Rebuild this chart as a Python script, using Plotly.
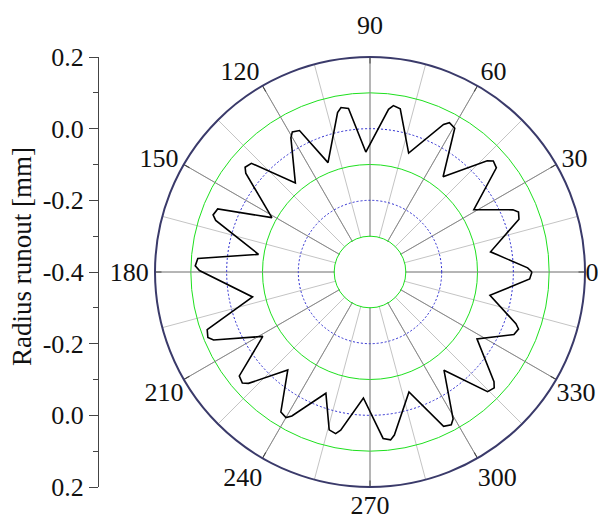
import plotly.graph_objects as go

# ---- data (angle in degrees, radius runout in mm) ----
theta_deg = [0, 1.5, 9.5, 19.5, 22, 23.5, 31, 39.5, 42, 43.5, 52.5, 59.5, 62, 63.5,
             72, 79.5, 82, 83.5, 92, 97.5, 100, 101.5, 111, 116.5, 119, 120.5,
             130, 137.5, 140, 141.5, 151, 157.5, 160, 161.5, 171, 175.5, 178, 179.5,
             192, 199.5, 202, 203.5, 211, 218.5, 221, 222.5, 230, 237.5, 240, 241.5,
             250, 255.5, 258, 259.5, 267, 274.5, 277, 278.5, 288, 295.5, 298, 299.5,
             307, 314.5, 317, 318.5, 328, 336.5, 339, 340.5, 349, 357.5, 360]
runout_mm = [0.052, 0.040, -0.059, 0.041, 0.047, 0.035, -0.062, 0.057, 0.063, 0.051,
             -0.065, 0.066, 0.072, 0.060, -0.051, 0.063, 0.069, 0.057, -0.065, 0.060,
             0.066, 0.054, -0.073, 0.041, 0.047, 0.035, -0.076, 0.049, 0.055, 0.043,
             -0.087, 0.060, 0.066, 0.054, -0.085, 0.082, 0.088, 0.076, -0.065, 0.082,
             0.088, 0.076, -0.051, 0.066, 0.072, 0.060, -0.043, 0.063, 0.069, 0.057,
             -0.040, 0.055, 0.061, 0.049, -0.048, 0.066, 0.072, 0.060, -0.048, 0.077,
             0.083, 0.071, -0.057, 0.068, 0.074, 0.062, -0.048, 0.038, 0.044, 0.032,
             -0.059, 0.046, 0.052]

radial_range = [-0.302, 0.2]     # spokes start at the -0.3 mm ring
full_range = [-0.4, 0.2]         # centre of the plot is -0.4 mm
green_rings = [-0.1, 0.1]
inner_ring = [-0.3]
blue_rings = [-0.2, 0.0]
major_angles = list(range(0, 360, 30))
minor_angles = list(range(0, 360, 15))
# angle labels split in groups that sit at different distances from the rim
labels_near = [0, 210, 240, 270, 300, 330]
labels_mid = [30, 60, 120, 150, 180]
labels_far = [90]
left_tickvals = [-0.6, -0.4, -0.2, 0.0, 0.2, 0.4, 0.6]
left_ticktext = ["0.2", "0.0", "-0.2", "-0.4", "-0.2", "0.0", "0.2"]


def texts(vals, group):
    return [str(v) if v in group else "" for v in vals]


W, H = 606, 524
OFF = 8                      # page body margin offset
cx, cy, R = 370 - OFF, 272 - OFF, 215
dom_x = [(cx - R) / W, (cx + R) / W]
dom_y = [1 - (cy + R) / H, 1 - (cy - R) / H]
HOLE = 0.1634
FONT = "Liberation Serif"
FS = 26
GREEN = "#1ee01e"
TICKFONT = dict(family=FONT, size=FS, color="#111")

fig = go.Figure()
fig.add_trace(go.Scatter(x=[], y=[], xaxis="x", yaxis="y", showlegend=False))
fig.add_trace(go.Scatterpolar(r=[], theta=[], subplot="polar", showlegend=False))
fig.add_trace(go.Scatterpolar(r=runout_mm, theta=theta_deg, mode="lines",
                              line=dict(color="black", width=1.6),
                              subplot="polar2", showlegend=False))
fig.add_trace(go.Scatterpolar(r=[], theta=[], subplot="polar3", showlegend=False))

common_radial = dict(showticklabels=False, ticks="", showline=False, tickmode="array")
fig.update_layout(
    width=W, height=H, autosize=False,
    margin=dict(l=0, r=0, t=0, b=0, pad=0, autoexpand=False),
    paper_bgcolor="white", plot_bgcolor="rgba(0,0,0,0)",
    font=dict(family=FONT, size=FS, color="#111"),
    polar=dict(
        domain=dict(x=dom_x, y=dom_y), hole=HOLE, bgcolor="white",
        radialaxis=dict(common_radial, range=radial_range, tickvals=green_rings,
                        showgrid=True, gridcolor=GREEN, gridwidth=1),
        angularaxis=dict(tickmode="array", tickvals=minor_angles,
                         ticktext=texts(minor_angles, labels_far),
                         showticklabels=True, ticks="outside", ticklen=12,
                         tickcolor="rgba(0,0,0,0)", tickfont=TICKFONT,
                         showline=False, gridcolor="#c4c4c4", gridwidth=1,
                         direction="counterclockwise", rotation=0),
    ),
    polar2=dict(
        domain=dict(x=dom_x, y=dom_y), hole=HOLE, bgcolor="rgba(0,0,0,0)",
        radialaxis=dict(common_radial, range=radial_range, tickvals=blue_rings,
                        showgrid=True, gridcolor="#2c2cd0", gridwidth=1,
                        griddash="2px,2px"),
        angularaxis=dict(tickmode="array", tickvals=major_angles,
                         ticktext=texts(major_angles, labels_near),
                         showticklabels=True, ticks="inside", ticklen=6,
                         tickcolor="#444", tickwidth=1, showline=False,
                         gridcolor="#8a8a8a", gridwidth=1, tickfont=TICKFONT,
                         direction="counterclockwise", rotation=0),
    ),
    polar3=dict(
        domain=dict(x=dom_x, y=dom_y), bgcolor="rgba(0,0,0,0)",
        radialaxis=dict(common_radial, range=full_range, tickvals=inner_ring,
                        showgrid=True, gridcolor=GREEN, gridwidth=1.2),
        angularaxis=dict(tickmode="array", tickvals=major_angles,
                         ticktext=texts(major_angles, labels_mid),
                         showticklabels=True, tickfont=TICKFONT, ticks="",
                         showline=True, linecolor="#3a3a6a", linewidth=2, showgrid=False,
                         direction="counterclockwise", rotation=0),
    ),
    xaxis=dict(visible=False, domain=[(99 - OFF) / W, 1.0], range=[0, 1]),
    yaxis=dict(domain=dom_y, range=[-0.6, 0.6], anchor="x",
               tickmode="array", tickvals=left_tickvals, ticktext=left_ticktext,
               ticks="outside", ticklen=9, tickcolor="#444", tickwidth=1,
               showline=True, linecolor="#444", linewidth=1, showgrid=False,
               zeroline=False, tickfont=TICKFONT,
               minor=dict(tick0=0.1, dtick=0.2, ticks="outside", ticklen=5,
                          tickcolor="#444", showgrid=False)),
    annotations=[dict(text="Radius runout [mm]", x=(22 - OFF) / W, y=1 - (257 - OFF) / H,
                      xref="paper", yref="paper", textangle=-90, showarrow=False,
                      xanchor="center", yanchor="middle",
                      font=dict(family=FONT, size=27, color="#111"))],
)

fig.write_html("out.html")
